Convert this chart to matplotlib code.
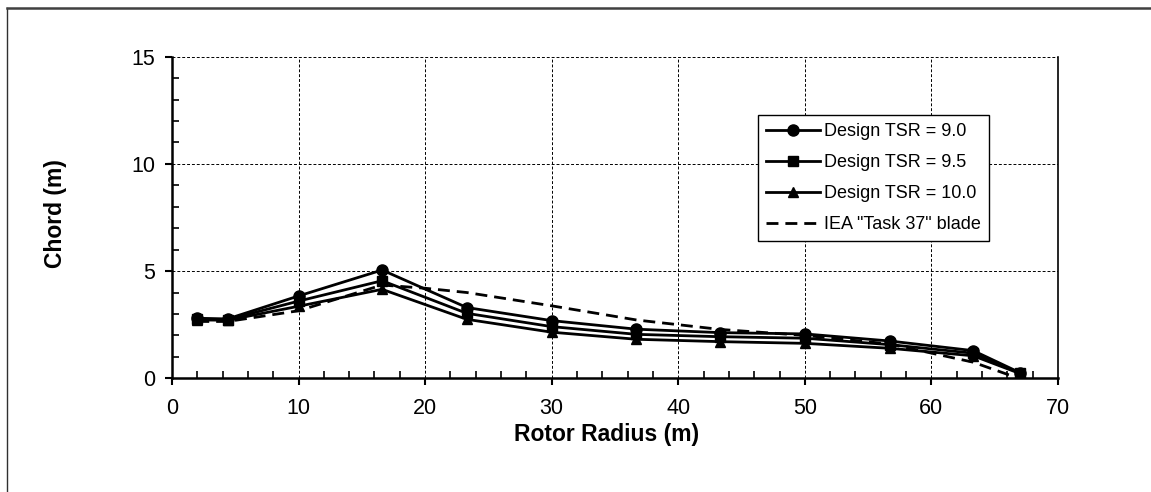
import matplotlib
matplotlib.use("Agg")
import matplotlib.pyplot as plt
from matplotlib.lines import Line2D
from matplotlib.ticker import MultipleLocator

plt.rcParams['font.family'] = ['Liberation Sans', 'DejaVu Sans']

# Blade stations (m)
radius = [2.0, 4.4, 10.0, 16.6, 23.3, 30.0, 36.7, 43.3, 50.0, 56.7, 63.3, 67.0]

# Chord (m) for each design tip speed ratio
chord_tsr90 = [2.80, 2.77, 3.84, 5.05, 3.30, 2.69, 2.29, 2.13, 2.07, 1.74, 1.29, 0.26]
chord_tsr95 = [2.76, 2.74, 3.60, 4.55, 3.03, 2.41, 2.05, 1.94, 1.87, 1.57, 1.17, 0.24]
chord_tsr100 = [2.72, 2.71, 3.36, 4.15, 2.75, 2.15, 1.82, 1.71, 1.63, 1.40, 1.05, 0.22]

# IEA "Task 37" reference blade
iea_radius = [2.0, 4.4, 10.0, 16.6, 20.0, 23.3, 30.0, 36.7, 43.3, 50.0, 56.7, 63.3, 66.5]
iea_chord = [2.65, 2.65, 3.15, 4.35, 4.20, 4.00, 3.38, 2.72, 2.28, 2.00, 1.60, 0.75, 0.08]

fig = plt.figure(figsize=(11.51, 4.92), dpi=100)
ax = fig.add_axes([0.1494, 0.2311, 0.7698, 0.6537])

lw = 2.0
ax.plot(radius, chord_tsr90, color='black', lw=lw, marker='o', ms=8,
        label='Design TSR = 9.0', zorder=4)
ax.plot(radius, chord_tsr95, color='black', lw=lw, marker='s', ms=7,
        label='Design TSR = 9.5', zorder=4)
ax.plot(radius, chord_tsr100, color='black', lw=lw, marker='^', ms=7.5,
        label='Design TSR = 10.0', zorder=4)
ax.plot(iea_radius, iea_chord, color='black', lw=lw, ls=(0, (4.3, 2.5)),
        label='IEA "Task 37" blade', zorder=3)

ax.set_xlim(0, 70)
ax.set_ylim(0, 15)
ax.xaxis.set_major_locator(MultipleLocator(10))
ax.xaxis.set_minor_locator(MultipleLocator(2))
ax.yaxis.set_major_locator(MultipleLocator(5))
ax.yaxis.set_minor_locator(MultipleLocator(1))

ax.grid(True, which='major', color='black', ls=(0, (3, 2)), lw=0.7)
ax.set_axisbelow(True)

ax.tick_params(which='major', direction='out', length=5, width=1.5,
               labelsize=15.5, colors='black')
ax.tick_params(axis='x', which='major', pad=9)
ax.tick_params(axis='y', which='major', pad=7)
ax.tick_params(which='minor', direction='in', length=5, width=1.2)

for side in ['left', 'bottom']:
    ax.spines[side].set_linewidth(1.8)
ax.spines['right'].set_linewidth(1.2)
ax.spines['top'].set_visible(False)

ax.set_xlabel('Rotor Radius (m)', fontsize=16.5, fontweight='bold', va='center')
ax.set_ylabel('Chord (m)', fontsize=16.5, fontweight='bold', va='center')
ax.xaxis.set_label_coords(0.491, -0.176)
ax.yaxis.set_label_coords(-0.131, 0.511)

leg = ax.legend(loc='upper left', bbox_to_anchor=(0.661, 0.819), fontsize=13,
                frameon=True, fancybox=False, handlelength=3.0,
                labelspacing=0.78, borderpad=0.45, handletextpad=0.2,
                borderaxespad=0)
leg.get_frame().set_edgecolor('black')
leg.get_frame().set_linewidth(1.0)
leg.get_frame().set_alpha(1)

# outer frame of the chart area (left and top edges only)
fig.add_artist(Line2D([7 / 1151, 7 / 1151], [0, 1 - 7.5 / 492],
                      transform=fig.transFigure, color='#303030', lw=1.0))
fig.add_artist(Line2D([7 / 1151, 1], [1 - 7.5 / 492, 1 - 7.5 / 492],
                      transform=fig.transFigure, color='#404040', lw=1.8))

fig.savefig('out.png', dpi=100)
